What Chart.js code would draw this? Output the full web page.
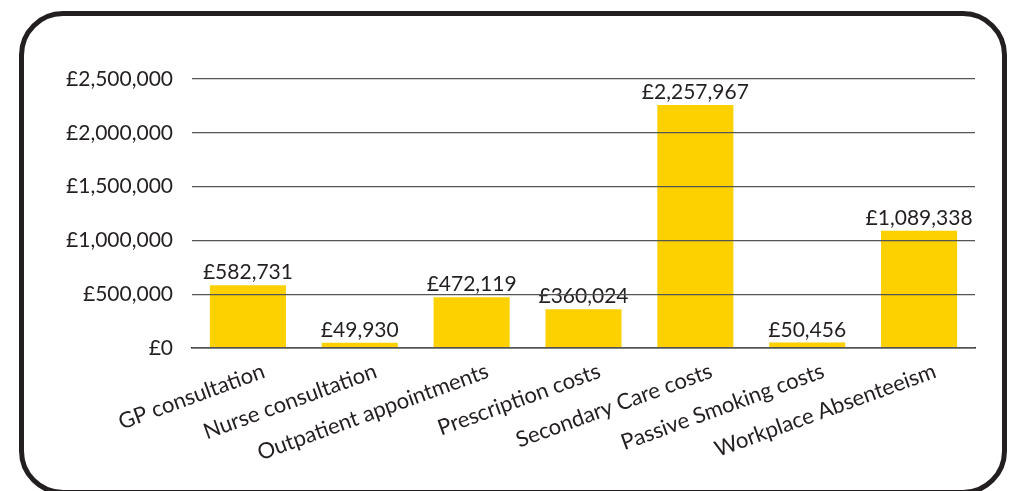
<!DOCTYPE html>
<html>
<head>
<meta charset="utf-8">
<script src="https://cdn.jsdelivr.net/npm/chart.js@4"></script>
<style>
  html, body { margin: 0; padding: 0; background: #fff; }
  #wrap { position: relative; width: 1010px; height: 491px; overflow: hidden; }
  #frame {
    position: absolute; left: 19px; top: 11px; width: 978px; height: 474px;
    border: 5px solid #231f20; border-radius: 44px;
  }
  canvas { position: absolute; left: 0; top: 0; }
</style>
</head>
<body>
<div id="wrap">
  <div id="frame"></div>
  <canvas id="costChart" width="1010" height="491"></canvas>
</div>
<script>
// Coûts annuels par poste
const categories = [
  'GP consultation',
  'Nurse consultation',
  'Outpatient appointments',
  'Prescription costs',
  'Secondary Care costs',
  'Passive Smoking costs',
  'Workplace Absenteeism'
];
const costs = [582731, 49930, 472119, 360024, 2257967, 50456, 1089338];
const yTicks = [0, 500000, 1000000, 1500000, 2000000, 2500000];

const FONT = 'Lato, "Open Sans", sans-serif';
const INK = '#231f20';

function pounds(v) {
  return '£' + v.toLocaleString('en-GB');
}

// Etiquettes de valeur au-dessus des barres
const valueLabels = {
  id: 'valueLabels',
  afterDatasetsDraw(chart) {
    const ctx = chart.ctx;
    const meta = chart.getDatasetMeta(0);
    ctx.save();
    ctx.font = '21px ' + FONT;
    ctx.fillStyle = INK;
    ctx.textAlign = 'center';
    ctx.textBaseline = 'alphabetic';
    meta.data.forEach(function(bar, i) {
      ctx.fillText(pounds(costs[i]), bar.x, bar.y - 6);
    });
    ctx.restore();
  }
};

new Chart(document.getElementById('costChart'), {
  type: 'bar',
  data: {
    labels: categories,
    datasets: [{
      data: costs,
      backgroundColor: '#fdd000',
      borderWidth: 0,
      categoryPercentage: 1,
      barPercentage: 0.68
    }]
  },
  options: {
    responsive: false,
    animation: false,
    layout: { padding: { top: 79, right: 35, left: 0, bottom: 0 } },
    plugins: {
      legend: { display: false },
      tooltip: { enabled: false }
    },
    scales: {
      x: {
        grid: { display: false },
        border: { color: INK, width: 1.5 },
        ticks: {
          color: INK,
          font: { family: FONT, size: 22 },
          minRotation: 20,
          maxRotation: 20,
          labelOffset: 16,
          padding: 2
        },
        afterFit(scale) { scale.height = 143; }
      },
      y: {
        min: 0,
        max: 2500000,
        afterBuildTicks(scale) {
          scale.ticks = yTicks.map(function(v) { return { value: v }; });
        },
        grid: { color: '#555', lineWidth: 1.2, drawTicks: false, z: 1 },
        border: { display: false },
        ticks: {
          color: INK,
          font: { family: FONT, size: 21 },
          padding: 19,
          callback: function(v) { return pounds(v); }
        },
        afterFit(scale) { scale.width = 192; }
      }
    }
  },
  plugins: [valueLabels]
});
</script>
</body>
</html>
